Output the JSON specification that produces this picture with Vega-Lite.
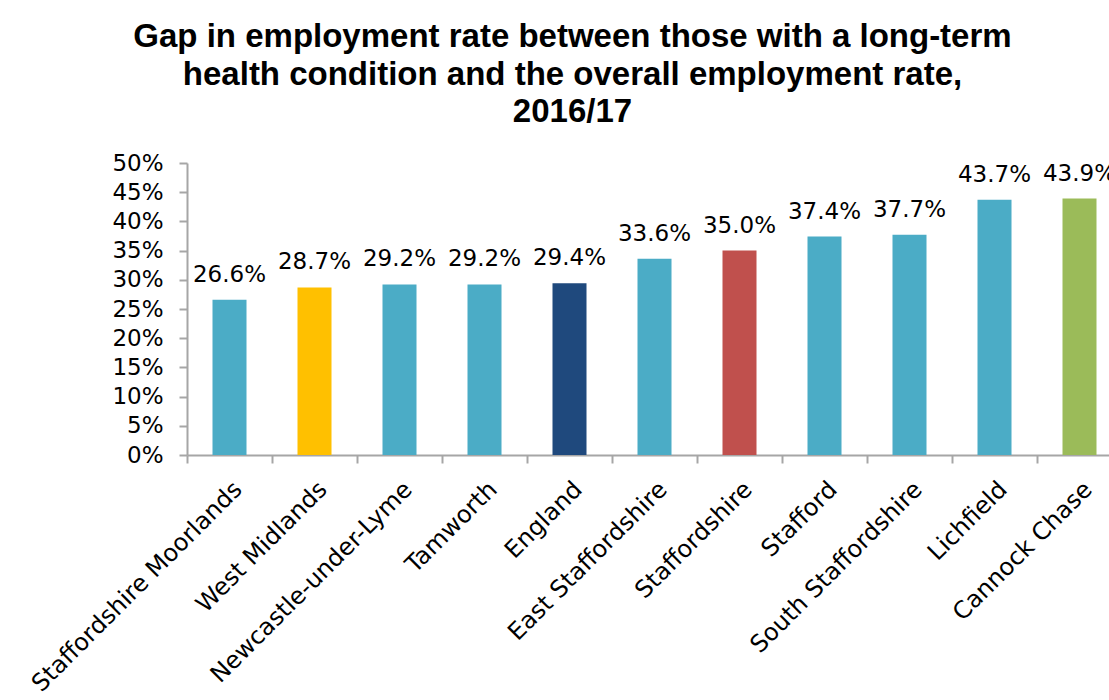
{
  "$schema": "https://vega.github.io/schema/vega-lite/v6.json",
  "autosize": "none",
  "width": 935,
  "height": 292,
  "padding": {"left": 187, "top": 163, "right": 0, "bottom": 245},
  "background": "white",
  "title": {
    "text": ["Gap in employment rate between those with a long-term", "health condition and the overall employment rate,", "2016/17"],
    "font": "Liberation Sans",
    "fontWeight": "bold",
    "fontSize": 33,
    "lineHeight": 37.5,
    "color": "#000000",
    "anchor": "middle",
    "dx": -82,
    "offset": 23
  },
  "data": {
    "values": [
      {"area": "Staffordshire Moorlands", "gap": 0.266, "group": "district"},
      {"area": "West Midlands", "gap": 0.287, "group": "West Midlands"},
      {"area": "Newcastle-under-Lyme", "gap": 0.292, "group": "district"},
      {"area": "Tamworth", "gap": 0.292, "group": "district"},
      {"area": "England", "gap": 0.294, "group": "England"},
      {"area": "East Staffordshire", "gap": 0.336, "group": "district"},
      {"area": "Staffordshire", "gap": 0.350, "group": "Staffordshire"},
      {"area": "Stafford", "gap": 0.374, "group": "district"},
      {"area": "South Staffordshire", "gap": 0.377, "group": "district"},
      {"area": "Lichfield", "gap": 0.437, "group": "district"},
      {"area": "Cannock Chase", "gap": 0.439, "group": "Cannock Chase"}
    ]
  },
  "encoding": {
    "x": {
      "field": "area",
      "type": "nominal",
      "sort": null,
      "scale": {"paddingInner": 0, "paddingOuter": 0},
      "axis": {
        "title": null,
        "labelAngle": -45,
        "labelFont": "DejaVu Sans",
        "labelFontSize": 24,
        "labelColor": "#000000",
        "labelPadding": 14,
        "labelLimit": 0,
        "tickBand": "extent",
        "tickSize": 8,
        "tickColor": "#a6a6a6",
        "tickWidth": 2,
        "domainColor": "#a6a6a6",
        "domainWidth": 2,
        "labelOverlap": false,
        "grid": false
      }
    },
    "y": {
      "field": "gap",
      "type": "quantitative",
      "scale": {"domain": [0, 0.5], "nice": false},
      "axis": {
        "title": null,
        "values": [0, 0.05, 0.1, 0.15, 0.2, 0.25, 0.3, 0.35, 0.4, 0.45, 0.5],
        "format": ".0%",
        "labelFont": "DejaVu Sans",
        "labelFontSize": 23,
        "labelColor": "#000000",
        "labelPadding": 16,
        "tickSize": 8,
        "tickColor": "#a6a6a6",
        "tickWidth": 2,
        "domainColor": "#a6a6a6",
        "domainWidth": 2,
        "grid": false
      }
    }
  },
  "layer": [
    {
      "mark": {"type": "bar", "width": {"band": 0.4}},
      "encoding": {
        "color": {
          "field": "group",
          "type": "nominal",
          "scale": {
            "domain": ["district", "West Midlands", "England", "Staffordshire", "Cannock Chase"],
            "range": ["#4BACC6", "#FFC000", "#1F497D", "#C0504D", "#9BBB59"]
          },
          "legend": null
        }
      }
    },
    {
      "mark": {"type": "text", "baseline": "alphabetic", "dy": -18, "font": "DejaVu Sans", "fontSize": 23, "color": "#000000"},
      "encoding": {
        "text": {"field": "gap", "type": "quantitative", "format": ".1%"}
      }
    }
  ],
  "config": {"view": {"stroke": null}}
}
